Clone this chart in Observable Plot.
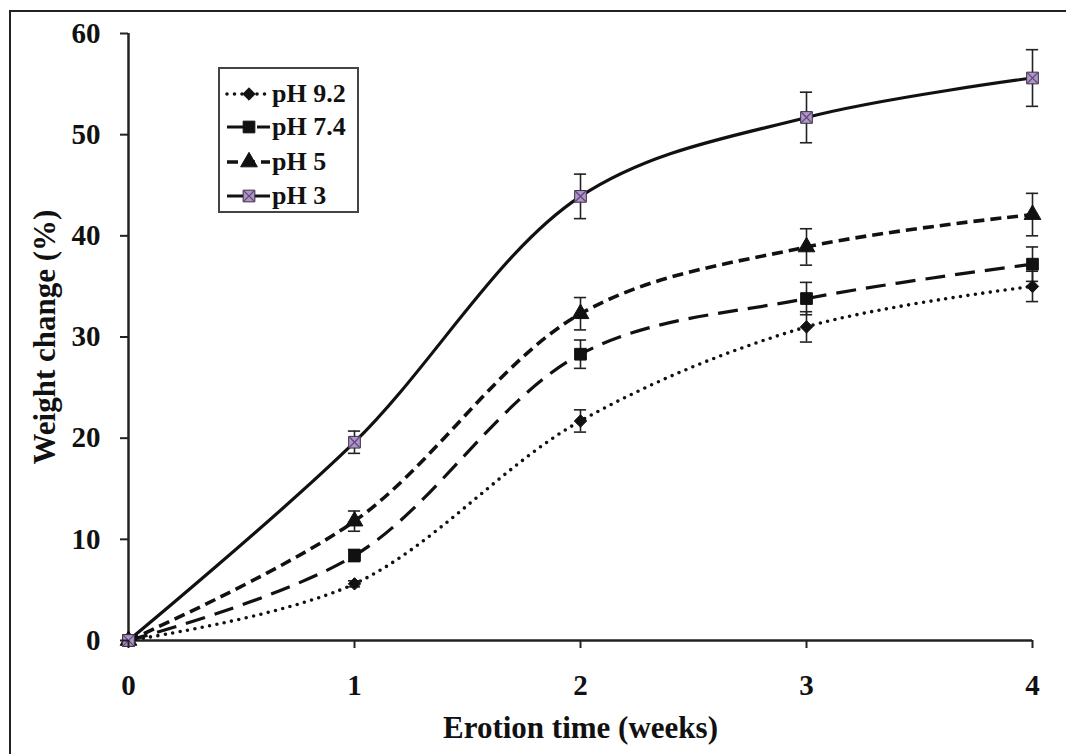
<!DOCTYPE html>
<html>
<head>
<meta charset="utf-8">
<script src="https://cdn.jsdelivr.net/npm/d3@7"></script>
<script src="https://cdn.jsdelivr.net/npm/@observablehq/plot@0.6"></script>
<style>
  html, body { margin: 0; padding: 0; background: #fff; overflow: hidden; }
  #wrap { position: relative; width: 1066px; height: 754px; font-family: "Liberation Serif", "Times New Roman", serif; font-weight: bold; }
  #border { position: absolute; left: 9px; top: 10px; width: 1200px; height: 900px; border-left: 2.5px solid #222; border-top: 2.5px solid #222; }
  #chart { position: absolute; left: 0; top: 0; }
  #legend { position: absolute; left: 218px; top: 67px; width: 137px; height: 142px; border: 2px solid #444; background: #fff; box-sizing: content-box; }
  .row { position: absolute; left: 0; height: 30px; display: flex; align-items: center; }
  .row span { font-size: 26px; color: #111; margin-left: 1px; white-space: nowrap; }
</style>
</head>
<body>
<div id="wrap">
  <div id="border"></div>
  <div id="chart"></div>
  <div id="legend"></div>
</div>
<script>
// ---- data ----
const weeks = [0, 1, 2, 3, 4];
const seriesNames = ["pH 9.2", "pH 7.4", "pH 5", "pH 3"];
const ph92 = [0, 5.6, 21.7, 31.0, 35.0];
const err92 = [0, 0.3, 1.1, 1.5, 1.5];
const ph74 = [0, 8.4, 28.3, 33.8, 37.2];
const err74 = [0, 0.6, 1.4, 1.6, 1.7];
const ph5 = [0, 11.8, 32.3, 38.9, 42.1];
const err5 = [0, 1.0, 1.6, 1.8, 2.1];
const ph3 = [0, 19.6, 43.9, 51.7, 55.6];
const err3 = [0, 1.1, 2.2, 2.5, 2.8];
const yTicks = [0, 10, 20, 30, 40, 50, 60];
const xTicks = [0, 1, 2, 3, 4];

const valuesBySeries = [ph92, ph74, ph5, ph3];
const errBySeries = [err92, err74, err5, err3];

// ---- styles per series ----
const styles = {
  "pH 9.2": {dash: "0 7.5", width: 3.6, cap: "round", symbol: "diamond2", r: 5.6, fill: "#111", stroke: "#111"},
  "pH 7.4": {dash: "20 10", width: 3.2, cap: "butt", symbol: "square", r: 6.6, fill: "#111", stroke: "#111"},
  "pH 5":   {dash: "11 6", width: 3.6, cap: "butt", symbol: "triangle", r: 6.2, fill: "#111", stroke: "#111"},
  "pH 3":   {dash: null, width: 3.2, cap: "butt", symbol: "square", r: 6.6, fill: "#a999bb", stroke: "#3a3046"}
};

const rows = [];
seriesNames.forEach((s, i) => {
  weeks.forEach((w, j) => rows.push({series: s, x: w, y: valuesBySeries[i][j], err: errBySeries[i][j]}));
});
const errRows = rows.filter(d => d.err > 0);
const capHalf = 0.027;

const marks = [];
// axes lines
marks.push(Plot.ruleY([0], {stroke: "#222", strokeWidth: 2.5}));
marks.push(Plot.ruleX([0], {stroke: "#222", strokeWidth: 2.5}));
// lines
seriesNames.forEach(s => {
  const st = styles[s];
  marks.push(Plot.line(rows.filter(d => d.series === s), {
    x: "x", y: "y", curve: "catmull-rom", stroke: "#111",
    strokeWidth: st.width, strokeDasharray: st.dash, strokeLinecap: st.cap
  }));
});
// error bars
marks.push(Plot.ruleX(errRows, {x: "x", y1: d => d.y - d.err, y2: d => d.y + d.err, stroke: "#222", strokeWidth: 1.6}));
marks.push(Plot.ruleY(errRows, {y: d => d.y + d.err, x1: d => d.x - capHalf, x2: d => d.x + capHalf, stroke: "#222", strokeWidth: 1.6}));
marks.push(Plot.ruleY(errRows, {y: d => d.y - d.err, x1: d => d.x - capHalf, x2: d => d.x + capHalf, stroke: "#222", strokeWidth: 1.6}));
// markers
seriesNames.forEach(s => {
  const st = styles[s];
  marks.push(Plot.dot(rows.filter(d => d.series === s), {
    x: "x", y: "y", symbol: st.symbol, r: st.r, fill: st.fill, stroke: st.stroke, strokeWidth: 1
  }));
});
marks.push(Plot.dot(rows.filter(d => d.series === "pH 3"), {
  x: "x", y: "y", symbol: "times", r: 5.2, stroke: "#6b3f8f", strokeWidth: 1.3
}));
// axes
marks.push(Plot.axisY({ticks: yTicks, tickSize: 8, tickPadding: 20, tickFormat: d => d, label: null,
  fontSize: 29, fontWeight: "bold", strokeWidth: 2, stroke: "#222", color: "#111"}));
marks.push(Plot.axisX({ticks: xTicks, tickSize: 8, tickPadding: 26, tickFormat: d => d, label: null,
  fontSize: 29, fontWeight: "bold", strokeWidth: 2, stroke: "#222", color: "#111"}));
// titles
marks.push(Plot.text(["Erotion time (weeks)"], {frameAnchor: "bottom", dy: 88, fontSize: 31, fontWeight: "bold", fill: "#111", lineAnchor: "middle", textAnchor: "middle"}));
marks.push(Plot.text(["Weight change (%)"], {frameAnchor: "left", dx: -83, rotate: -90, fontSize: 31, fontWeight: "bold", fill: "#111", lineAnchor: "middle", textAnchor: "middle"}));

const chart = Plot.plot({
  width: 1066, height: 754,
  marginLeft: 128, marginRight: 34, marginTop: 33, marginBottom: 114,
  x: {domain: [0, 4], axis: null},
  y: {domain: [0, 60], axis: null},
  style: {fontFamily: "'Liberation Serif', 'Times New Roman', serif", background: "transparent", overflow: "visible"},
  marks
});
document.getElementById("chart").appendChild(chart);

// ---- legend ----
const legend = d3.select("#legend");
const rowTops = [10, 43, 78, 112];
seriesNames.forEach((s, i) => {
  const st = styles[s];
  const row = legend.append("div").attr("class", "row").style("top", rowTops[i] + "px").style("left", "5px");
  const svg = row.append("svg").attr("width", 46).attr("height", 30);
  svg.append("line").attr("x1", 2).attr("x2", 45).attr("y1", 15).attr("y2", 15)
    .attr("stroke", "#111").attr("stroke-width", st.width)
    .attr("stroke-dasharray", st.dash).attr("stroke-linecap", st.cap);
  const symMap = {diamond2: d3.symbolDiamond2, square: d3.symbolSquare, triangle: d3.symbolTriangle};
  svg.append("path").attr("transform", "translate(24,15)")
    .attr("d", d3.symbol(symMap[st.symbol], Math.PI * st.r * st.r)())
    .attr("fill", st.fill).attr("stroke", st.stroke).attr("stroke-width", 1);
  if (s === "pH 3") {
    svg.append("path").attr("transform", "translate(24,15)")
      .attr("d", d3.symbol(d3.symbolTimes, Math.PI * 5.2 * 5.2)())
      .attr("fill", "none").attr("stroke", "#6b3f8f").attr("stroke-width", 1.3);
  }
  row.append("span").text(s);
});
</script>
</body>
</html>
